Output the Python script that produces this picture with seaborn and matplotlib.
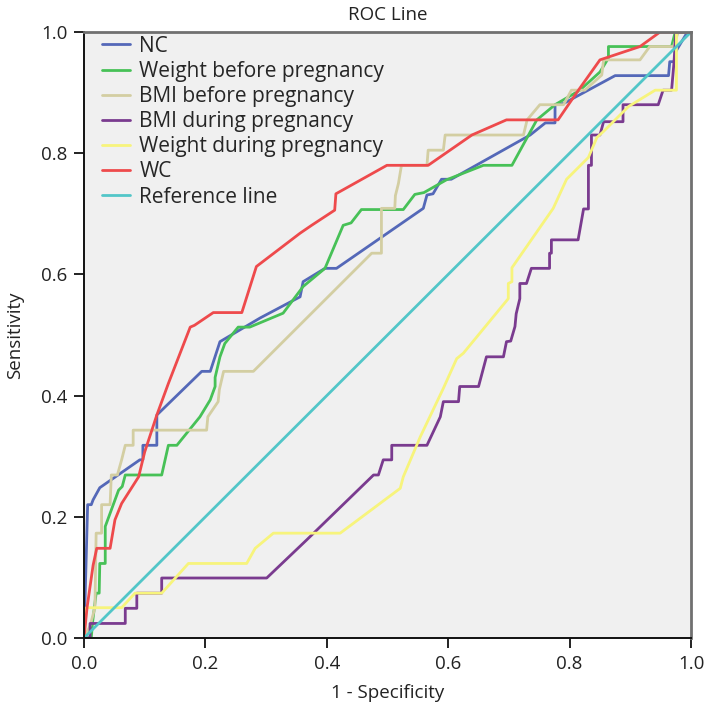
import matplotlib
matplotlib.use("Agg")
import matplotlib.pyplot as plt
import pandas as pd
import seaborn as sns

# ROC-кривые, значения (1 - specificity, sensitivity)
nc_x = [0, 0.006, 0.012, 0.015, 0.026, 0.092, 0.097, 0.097, 0.12, 0.12, 0.194, 0.208,
        0.224, 0.29, 0.356, 0.361, 0.397, 0.416, 0.559, 0.565, 0.575, 0.589, 0.605,
        0.735, 0.76, 0.776, 0.776, 0.79, 0.875, 0.963, 0.965, 0.972, 0.975, 0.993, 1.0]
nc_y = [0, 0.22, 0.22, 0.228, 0.248, 0.294, 0.294, 0.318, 0.318, 0.368, 0.44, 0.44,
        0.489, 0.528, 0.563, 0.588, 0.61, 0.61, 0.709, 0.731, 0.733, 0.757, 0.757,
        0.83, 0.85, 0.85, 0.88, 0.882, 0.928, 0.928, 0.951, 0.951, 0.968, 0.998, 1.0]

wbp_x = [0, 0.012, 0.014, 0.02, 0.025, 0.026, 0.035, 0.035, 0.057, 0.063, 0.068, 0.128,
         0.139, 0.153, 0.191, 0.208, 0.216, 0.216, 0.224, 0.232, 0.254, 0.273, 0.328,
         0.361, 0.397, 0.427, 0.44, 0.457, 0.526, 0.545, 0.56, 0.597, 0.658, 0.705,
         0.746, 0.776, 0.817, 0.85, 0.864, 0.864, 0.968, 0.974, 1.0]
wbp_y = [0, 0.0, 0.025, 0.074, 0.074, 0.123, 0.123, 0.184, 0.244, 0.25, 0.269, 0.269,
         0.318, 0.318, 0.365, 0.393, 0.415, 0.43, 0.464, 0.486, 0.513, 0.513, 0.536,
         0.58, 0.61, 0.681, 0.685, 0.707, 0.707, 0.732, 0.735, 0.756, 0.78, 0.78,
         0.855, 0.88, 0.904, 0.934, 0.957, 0.976, 0.976, 1.0, 1.0]

bbp_x = [0, 0.01, 0.018, 0.02, 0.029, 0.029, 0.043, 0.045, 0.055, 0.062, 0.068, 0.081,
         0.081, 0.202, 0.204, 0.221, 0.223, 0.23, 0.279, 0.356, 0.474, 0.49, 0.49,
         0.512, 0.513, 0.518, 0.523, 0.565, 0.567, 0.592, 0.595, 0.724, 0.73, 0.751,
         0.79, 0.803, 0.825, 0.853, 0.856, 0.916, 0.932, 0.971, 0.979, 1.0]
bbp_y = [0, 0.02, 0.05, 0.173, 0.173, 0.22, 0.22, 0.269, 0.269, 0.294, 0.318, 0.318,
         0.343, 0.343, 0.365, 0.39, 0.41, 0.44, 0.44, 0.517, 0.635, 0.635, 0.709,
         0.709, 0.73, 0.75, 0.78, 0.78, 0.805, 0.805, 0.83, 0.83, 0.855, 0.88,
         0.88, 0.904, 0.904, 0.929, 0.954, 0.954, 0.976, 0.976, 1.0, 1.0]

bdp_x = [0, 0.01, 0.01, 0.068, 0.068, 0.087, 0.087, 0.128, 0.128, 0.301, 0.367, 0.477,
         0.485, 0.493, 0.507, 0.507, 0.565, 0.587, 0.592, 0.617, 0.619, 0.65, 0.663,
         0.691, 0.696, 0.703, 0.71, 0.712, 0.718, 0.718, 0.729, 0.737, 0.767, 0.767,
         0.77, 0.77, 0.814, 0.823, 0.831, 0.831, 0.836, 0.836, 0.85, 0.856, 0.888,
         0.888, 0.946, 0.954, 0.968, 0.972, 0.975, 1.0]
bdp_y = [0, 0.0, 0.024, 0.024, 0.049, 0.049, 0.074, 0.074, 0.099, 0.099, 0.162, 0.269,
         0.269, 0.294, 0.294, 0.318, 0.318, 0.365, 0.39, 0.39, 0.415, 0.415, 0.464,
         0.464, 0.489, 0.49, 0.514, 0.535, 0.56, 0.585, 0.585, 0.61, 0.61, 0.635,
         0.635, 0.657, 0.657, 0.708, 0.708, 0.78, 0.78, 0.83, 0.83, 0.852, 0.852,
         0.88, 0.88, 0.904, 0.904, 0.95, 1.0, 1.0]

wdp_x = [0, 0.004, 0.062, 0.084, 0.128, 0.172, 0.268, 0.282, 0.312, 0.422, 0.521, 0.526,
         0.554, 0.592, 0.614, 0.625, 0.699, 0.699, 0.705, 0.705, 0.773, 0.795, 0.831,
         0.845, 0.856, 0.897, 0.941, 0.976, 0.976, 1.0]
wdp_y = [0, 0.05, 0.05, 0.074, 0.074, 0.123, 0.123, 0.148, 0.173, 0.173, 0.247, 0.266,
         0.332, 0.412, 0.461, 0.47, 0.56, 0.585, 0.588, 0.611, 0.709, 0.757, 0.793,
         0.826, 0.836, 0.877, 0.904, 0.904, 1.0, 1.0]

wc_x = [0, 0.005, 0.015, 0.021, 0.043, 0.051, 0.062, 0.09, 0.1, 0.12, 0.139, 0.175,
        0.182, 0.213, 0.26, 0.284, 0.356, 0.375, 0.413, 0.415, 0.499, 0.567, 0.639,
        0.696, 0.781, 0.811, 0.85, 0.916, 0.949, 1.0]
wc_y = [0, 0.05, 0.12, 0.148, 0.148, 0.195, 0.222, 0.266, 0.307, 0.368, 0.42, 0.513,
        0.516, 0.537, 0.537, 0.613, 0.668, 0.681, 0.706, 0.733, 0.78, 0.78, 0.83,
        0.855, 0.855, 0.899, 0.954, 0.976, 1.0, 1.0]

ref_x = [0, 1]
ref_y = [0, 1]

series_names = ["NC", "Weight before pregnancy", "BMI before pregnancy",
                "BMI during pregnancy", "Weight during pregnancy", "WC", "Reference line"]
series_x = [nc_x, wbp_x, bbp_x, bdp_x, wdp_x, wc_x, ref_x]
series_y = [nc_y, wbp_y, bbp_y, bdp_y, wdp_y, wc_y, ref_y]
colors = ["#5468b8", "#47c157", "#d3cea2", "#7a3b8f", "#f7f47c", "#ee4a4c", "#52c6c8"]

frames = []
for name, xs, ys in zip(series_names, series_x, series_y):
    frames.append(pd.DataFrame({"fpr": xs, "tpr": ys, "series": name}))
df = pd.concat(frames, ignore_index=True)

sns.set_style("ticks")
plt.rcParams["font.family"] = ["Open Sans", "DejaVu Sans"]

fig = plt.figure(figsize=(7.09, 7.12), dpi=100)
ax = fig.add_axes([84 / 709, 74 / 712, 607 / 709, 606 / 712])
ax.set_facecolor("#f0f0f0")

sns.lineplot(data=df, x="fpr", y="tpr", hue="series", hue_order=series_names,
             palette=colors, sort=False, estimator=None,
             linewidth=2.0, ax=ax)

ax.set_xlim(0, 1)
ax.set_ylim(0, 1)
ax.set_xticks([0, 0.2, 0.4, 0.6, 0.8, 1.0])
ax.set_yticks([0, 0.2, 0.4, 0.6, 0.8, 1.0])
ax.set_xticklabels(["0.0", "0.2", "0.4", "0.6", "0.8", "1.0"])
ax.set_yticklabels(["0.0", "0.2", "0.4", "0.6", "0.8", "1.0"])
ax.tick_params(direction="out", length=7, width=1.4, labelsize=13.5, pad=5,
               colors="#222222")

for side in ["left", "bottom"]:
    ax.spines[side].set_color("#111111")
    ax.spines[side].set_linewidth(1.4)
for side in ["top", "right"]:
    ax.spines[side].set_visible(True)
    ax.spines[side].set_color("#707070")
    ax.spines[side].set_linewidth(2)

ax.set_title("ROC Line", fontsize=13.5, pad=9, color="#222222")
ax.set_xlabel("1 - Specificity", fontsize=13.5, labelpad=8, color="#222222")
ax.set_ylabel("Sensitivity", fontsize=13.5, labelpad=12, color="#222222")

ax.legend(loc="upper left", bbox_to_anchor=(0.029, 0.994), frameon=False,
          fontsize=15, handlelength=1.36, handletextpad=0.45, labelspacing=0.2,
          borderaxespad=0, borderpad=0)

plt.savefig("out.png", dpi=100)
plt.close()
